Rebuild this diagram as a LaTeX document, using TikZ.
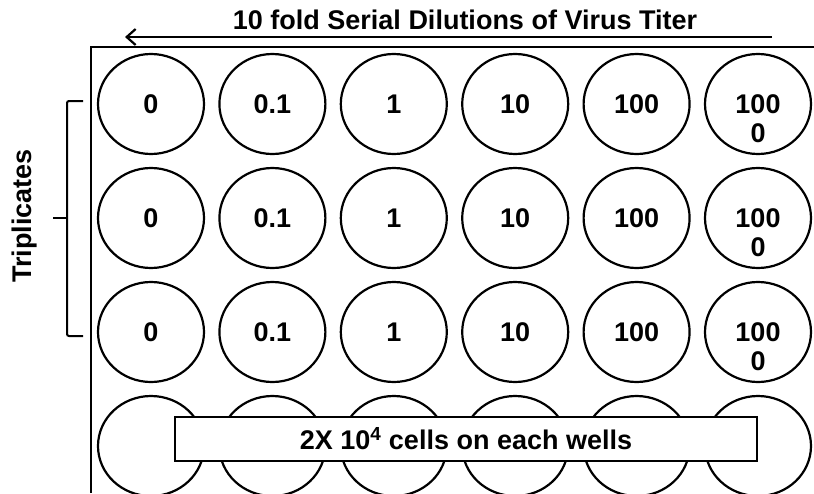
\documentclass[tikz,border=0pt]{standalone}
\usepackage{fontspec}
\setmainfont{Liberation Sans}
\usetikzlibrary{arrows.meta,shapes.geometric,positioning}

\begin{document}
\begin{tikzpicture}[x=1pt,y=-1pt,
    well/.style={draw, ellipse, line width=2.2pt, minimum width=106pt, minimum height=100pt, inner sep=0pt},
    welltext/.style={font=\fontsize{27}{29}\selectfont\bfseries},
    platebox/.style={draw, fill=white, line width=2.4pt, minimum width=582pt, minimum height=44pt, inner sep=0pt}
  ]
  % Fixed Bounding Box for alignment
  \useasboundingbox (0,0) rectangle (814,493);
  \clip (0,0) rectangle (814,493);

  % Plate outline
  \draw[line width=2.4pt] (91,493) -- (91,47) -- (814,47);

  % Wells
  \foreach \r in {1,...,4}{
    \foreach \c in {1,...,6}{
      \node[well] (w\r\c) at ({151+121.4*(\c-1)},{104+114*(\r-1)}) {};
    }
  }

  % Dilution labels
  \foreach \r in {1,2,3}{
    \foreach \v [count=\c] in {0,0.1,1,10,100,100}{
      \node[welltext] (t\r\c) at (w\r\c) {\v};
    }
    \node[welltext] (z\r) at ({151+121.4*5},{104+114*(\r-1)+29}) {0};
  }

  % Title and arrow
  \node[welltext] (title) at (465,20) {10 fold Serial Dilutions of Virus Titer};
  \coordinate (arrS) at (772,37);
  \coordinate (arrE) at (125,37);
  \draw[line width=2.2pt, -{Straight Barb[length=9pt,width=16pt]}] (arrS) -- (arrE);

  % Triplicates bracket
  \draw[line width=2pt, rounded corners=2pt] (83,101) -- (67,101) -- (67,336) -- (83,336);
  \draw[line width=2pt] (67,218) -- (53,218);
  \node[welltext, rotate=90] (trip) at (25,216) {Triplicates};

  % Cells box
  \node[platebox, welltext] (cells) at (466,439) {2X 10\textsuperscript{4} cells on each wells};
\end{tikzpicture}
\end{document}
